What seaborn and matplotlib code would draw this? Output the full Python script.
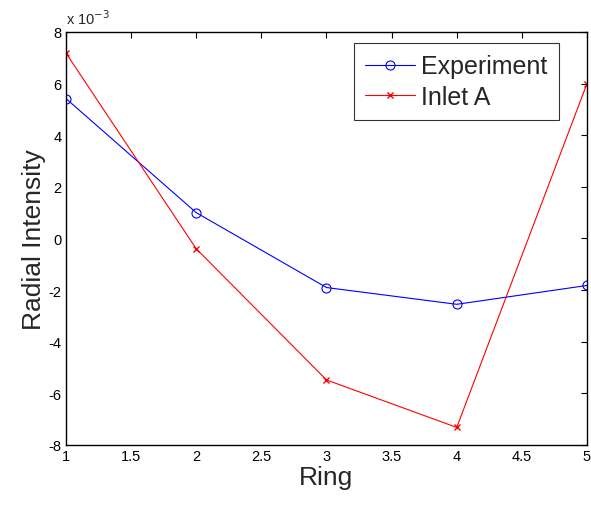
import numpy as np
import pandas as pd
import matplotlib
matplotlib.use("Agg")
import matplotlib.pyplot as plt
import matplotlib.ticker as mticker
import seaborn as sns

# values
rings = [1, 2, 3, 4, 5]
experiment = [5.42e-3, 1.0e-3, -1.9e-3, -2.55e-3, -1.82e-3]
inlet_a = [7.18e-3, -0.4e-3, -5.48e-3, -7.32e-3, 6.0e-3]

sns.set_style("white")
plt.rcParams['font.family'] = ['Liberation Sans', 'DejaVu Sans']
plt.rcParams['xtick.direction'] = 'in'
plt.rcParams['ytick.direction'] = 'in'

df = pd.DataFrame({"Ring": rings * 2,
                   "value": experiment + inlet_a,
                   "series": ["Experiment"] * 5 + ["Inlet A"] * 5})

fig = plt.figure(figsize=(5.91, 5.06), dpi=100)
ax = fig.add_axes([0.1117, 0.1186, 0.8815, 0.8162])

sns.lineplot(data=df[df.series == "Experiment"], x="Ring", y="value", ax=ax,
             color="#0000ff", lw=0.8, marker="o", markersize=6.5,
             markerfacecolor="none", markeredgecolor="#0000ff",
             markeredgewidth=0.8, label="Experiment")
sns.lineplot(data=df[df.series == "Inlet A"], x="Ring", y="value", ax=ax,
             color="#ff0000", lw=0.8, marker="x", markersize=4.5,
             markeredgecolor="#ff0000", markeredgewidth=1.0, label="Inlet A")

ax.set_xlim(1, 5)
ax.set_ylim(-8e-3, 8e-3)
ax.set_xticks(np.arange(1, 5.01, 0.5))
ax.set_yticks(np.arange(-8e-3, 8.01e-3, 2e-3))
ax.xaxis.set_major_formatter(mticker.FuncFormatter(lambda v, p: f"{v:g}"))
ax.yaxis.set_major_formatter(mticker.FuncFormatter(lambda v, p: f"{round(v * 1e3):d}"))
ax.tick_params(axis="both", which="both", labelsize=10.5, length=4, width=0.8,
               top=True, right=True, colors="black", pad=3)
for s in ax.spines.values():
    s.set_color("black")
    s.set_linewidth(1.0)

ax.set_xlabel("Ring", fontsize=19, labelpad=1)
ax.set_ylabel("Radial Intensity", fontsize=19, labelpad=2)
ax.text(0.0, 1.012, r"x 10$^{-3}$", transform=ax.transAxes, fontsize=10.5,
        ha="left", va="bottom")

leg = ax.legend(loc="upper right", bbox_to_anchor=(0.946, 0.973), fontsize=18,
                frameon=True, fancybox=False, borderpad=0.45, handlelength=2.0,
                handletextpad=0.25, labelspacing=0.25, borderaxespad=0)
leg.get_frame().set_edgecolor("black")
leg.get_frame().set_linewidth(0.8)

fig.savefig("out.png", dpi=100)
